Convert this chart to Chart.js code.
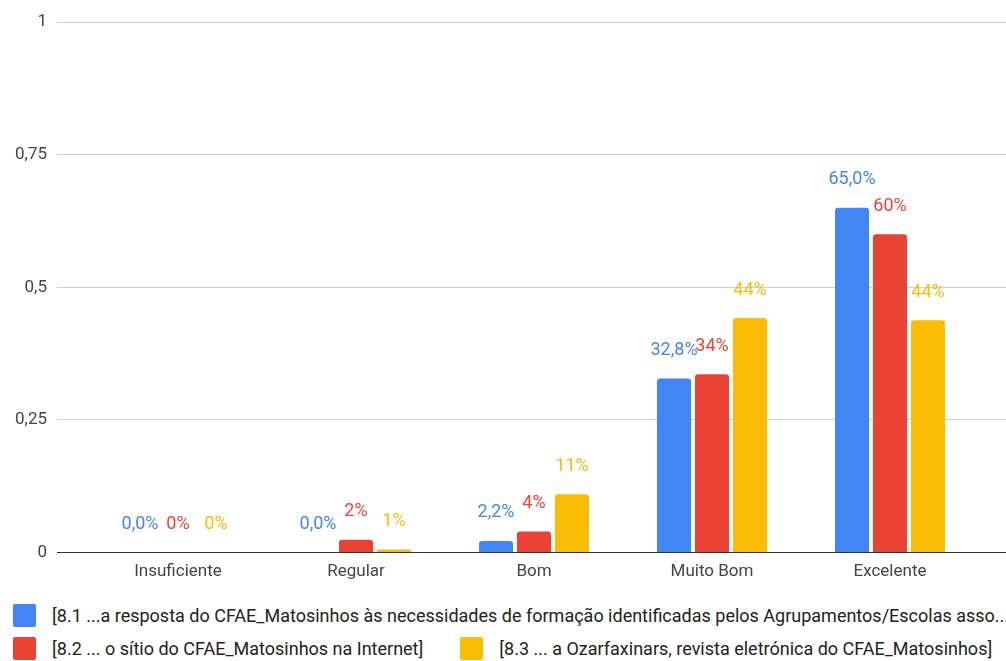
<!DOCTYPE html>
<html>
<head>
<meta charset="utf-8">
<script src="https://cdn.jsdelivr.net/npm/chart.js@4.4.1/dist/chart.umd.min.js"></script>
<style>
  html, body { margin: 0; padding: 0; background: #fff; }
  #wrap { position: relative; width: 1006px; height: 591px; }
  #legend { width: 1006px; height: 70px; box-sizing: border-box; padding: 13px 0 0 13px;
            font-family: Roboto, sans-serif; font-size: 18px; color: #222; overflow: hidden; }
  .row { display: flex; white-space: nowrap; height: 33px; }
  .item { display: flex; align-items: center; height: 23px; margin-right: 37px; flex: none; }
  .box { width: 23px; height: 23px; border-radius: 2px; margin-right: 16px; flex: none; }
</style>
</head>
<body>
<div id="wrap"><canvas id="myChart"></canvas></div>
<div id="legend"></div>
<script>
const categories = ['Insuficiente', 'Regular', 'Bom', 'Muito Bom', 'Excelente'];
const seriesNames = [
    '[8.1 ...a resposta do CFAE_Matosinhos às necessidades de formação identificadas pelos Agrupamentos/Escolas asso...',
    '[8.2 ... o sítio do CFAE_Matosinhos na Internet]',
    '[8.3 ... a Ozarfaxinars, revista eletrónica do CFAE_Matosinhos]'
];
const resposta = [0, 0, 0.022, 0.328, 0.65];
const sitio = [0, 0.024, 0.04, 0.336, 0.60];
const ozarfaxinars = [0, 0.006, 0.11, 0.442, 0.438];
const yTicks = [0, 0.25, 0.5, 0.75, 1];
const colors = ['#4285F4', '#EA4335', '#FBBC04'];

const fmtOneDecimal = v => (v * 100).toFixed(1).replace('.', ',') + '%';
const fmtInt = v => Math.round(v * 100) + '%';
const labelFormats = [fmtOneDecimal, fmtInt, fmtInt];

// value labels above each bar, in the series colour
const valueLabels = {
    id: 'valueLabels',
    afterDatasetsDraw(chart) {
        const ctx = chart.ctx;
        chart.data.datasets.forEach((ds, i) => {
            chart.getDatasetMeta(i).data.forEach((bar, j) => {
                ctx.save();
                ctx.fillStyle = ds.backgroundColor;
                ctx.font = '18px Roboto';
                ctx.textAlign = 'center';
                ctx.textBaseline = 'middle';
                ctx.fillText(labelFormats[i](ds.data[j]), bar.x, bar.y - 28);
                ctx.restore();
            });
        });
    }
};

const gridColor = c => (c.tick && c.tick.value === 0) ? '#333' : '#d0d0d0';

const ctx = document.getElementById('myChart');
const myChart = new Chart(ctx, {
    type: 'bar',
    data: {
        labels: categories,
        datasets: [resposta, sitio, ozarfaxinars].map((d, i) => ({
            label: seriesNames[i],
            data: d,
            backgroundColor: colors[i],
            borderRadius: 3,
            borderSkipped: 'start',
            categoryPercentage: 0.64,
            barPercentage: 0.895
        }))
    },
    options: {
        responsive: true,
        maintainAspectRatio: false,
        animation: false,
        layout: { padding: { top: 22, bottom: 0 } },
        plugins: {
            legend: { display: false },
            tooltip: { enabled: false }
        },
        scales: {
            x: {
                grid: { display: false, drawTicks: false },
                border: { display: false },
                ticks: { color: '#444', padding: 9, font: { family: 'Roboto', size: 17 } }
            },
            y: {
                min: 0,
                max: 1,
                afterBuildTicks: s => { s.ticks = yTicks.map(v => ({ value: v })); },
                afterFit: s => { s.width = 89; },
                border: { display: false },
                grid: { color: gridColor, tickLength: 32 },
                ticks: {
                    color: '#444',
                    padding: 10,
                    font: { family: 'Roboto', size: 17 },
                    callback: v => String(v).replace('.', ',')
                }
            },
            y2: {
                position: 'right',
                min: 0,
                max: 1,
                afterBuildTicks: s => { s.ticks = yTicks.map(v => ({ value: v })); },
                afterFit: s => { s.width = 27; },
                border: { display: false },
                grid: { color: gridColor, tickLength: 27, drawOnChartArea: false },
                ticks: { display: false }
            }
        }
    },
    plugins: [valueLabels]
});

// legend below the chart: first series on its own row, the other two on the second row
const legend = document.getElementById('legend');
const rows = [[0], [1, 2]];
rows.forEach(r => {
    const row = document.createElement('div');
    row.className = 'row';
    r.forEach(i => {
        const item = document.createElement('div');
        item.className = 'item';
        item.innerHTML = '<span class="box" style="background:' + colors[i] + '"></span><span></span>';
        item.lastChild.textContent = seriesNames[i];
        row.appendChild(item);
    });
    legend.appendChild(row);
});
</script>
</body>
</html>
